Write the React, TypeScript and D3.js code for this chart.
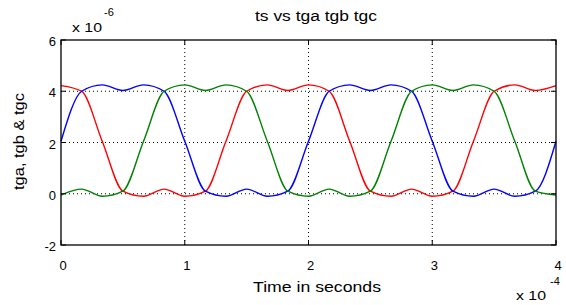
import React from "react";
import * as d3 from "d3";

// time in units of 1e-4 s, values in units of 1e-6
const tgaTime = [0, 0.167, 0.333, 0.5, 0.667, 0.833, 1.0, 1.167, 1.333, 1.5, 1.667, 1.833, 2.0, 2.167, 2.333, 2.5, 2.667, 2.833, 3.0, 3.167, 3.333, 3.5, 3.667, 3.833, 4.0];
const tgaValues = [4.22, 4.0, 2.05, 0.1, -0.1, 0.18, -0.1, 0.1, 2.05, 4.0, 4.25, 4.03, 4.25, 4.0, 2.05, 0.1, -0.1, 0.18, -0.1, 0.1, 2.05, 4.0, 4.25, 4.03, 4.22];

const tgbTime = [0, 0.167, 0.333, 0.5, 0.667, 0.833, 1.0, 1.167, 1.333, 1.5, 1.667, 1.833, 2.0, 2.167, 2.333, 2.5, 2.667, 2.833, 3.0, 3.167, 3.333, 3.5, 3.667, 3.833, 4.0];
const tgbValues = [2.05, 4.0, 4.25, 4.03, 4.25, 4.0, 2.05, 0.1, -0.1, 0.18, -0.1, 0.1, 2.05, 4.0, 4.25, 4.03, 4.25, 4.0, 2.05, 0.1, -0.1, 0.18, -0.1, 0.1, 2.05];

const tgcTime = [0, 0.167, 0.333, 0.5, 0.667, 0.833, 1.0, 1.167, 1.333, 1.5, 1.667, 1.833, 2.0, 2.167, 2.333, 2.5, 2.667, 2.833, 3.0, 3.167, 3.333, 3.5, 3.667, 3.833, 4.0];
const tgcValues = [-0.05, 0.18, -0.1, 0.1, 2.05, 4.0, 4.25, 4.03, 4.25, 4.0, 2.05, 0.1, -0.1, 0.18, -0.1, 0.1, 2.05, 4.0, 4.25, 4.03, 4.25, 4.0, 2.05, 0.1, -0.05];

const xTicks = [0, 1, 2, 3, 4];
const yTicks = [-2, 0, 2, 4, 6];

const series = [
  { name: "tga", time: tgaTime, values: tgaValues, color: "#ff0000" },
  { name: "tgb", time: tgbTime, values: tgbValues, color: "#0000ff" },
  { name: "tgc", time: tgcTime, values: tgcValues, color: "#008000" },
];

export default function App() {
  const width = 566;
  const height = 305;
  const left = 61;
  const right = 556;
  const top = 40;
  const bottom = 245;
  const font = "'Liberation Sans', Arial, sans-serif";

  const x = d3.scaleLinear().domain([0, 4]).range([left, right]);
  const y = d3.scaleLinear().domain([-2, 6]).range([bottom, top]);

  const line = d3
    .line<[number, number]>()
    .x((d) => x(d[0]))
    .y((d) => y(d[1]))
    .curve(d3.curveMonotoneX);

  const tick = 5;

  return (
    <svg
      width={width}
      height={height}
      style={{ position: "absolute", left: 0, top: 0, background: "#fff" }}
      fontFamily={font}
    >
      <rect x={0} y={0} width={width} height={height} fill="#fff" />

      {/* grid */}
      {xTicks.slice(1, -1).map((t) => (
        <line key={"gx" + t} x1={x(t)} x2={x(t)} y1={top} y2={bottom} stroke="#000" strokeDasharray="1,3" strokeWidth={1} />
      ))}
      {yTicks.slice(1, -1).map((t) => (
        <line key={"gy" + t} x1={left} x2={right} y1={y(t)} y2={y(t)} stroke="#000" strokeDasharray="1,3" strokeWidth={1} />
      ))}

      {/* series */}
      {series.map((s) => (
        <path
          key={s.name}
          d={line(s.time.map((t, i) => [t, s.values[i]] as [number, number])) || ""}
          fill="none"
          stroke={s.color}
          strokeWidth={1.4}
        />
      ))}

      {/* box */}
      <rect x={left} y={top} width={right - left} height={bottom - top} fill="none" stroke="#000" strokeWidth={1.3} />

      {/* ticks */}
      {xTicks.map((t) => (
        <g key={"xt" + t}>
          <line x1={x(t)} x2={x(t)} y1={bottom} y2={bottom - tick} stroke="#000" />
          <line x1={x(t)} x2={x(t)} y1={top} y2={top + tick} stroke="#000" />
          <text x={x(t) + 2} y={270} fontSize={13} textAnchor="middle" fill="#000">
            {t}
          </text>
        </g>
      ))}
      {yTicks.map((t) => (
        <g key={"yt" + t}>
          <line x1={left} x2={left + tick} y1={y(t)} y2={y(t)} stroke="#000" />
          <line x1={right} x2={right - tick} y1={y(t)} y2={y(t)} stroke="#000" />
          <text x={left - 5} y={y(t) + 6} fontSize={13} textAnchor="end" fill="#000">
            {t}
          </text>
        </g>
      ))}

      {/* exponent labels */}
      <text x={72} y={32} fontSize={13} fill="#000" textLength={30} lengthAdjust="spacingAndGlyphs">x 10</text>
      <text x={104} y={16} fontSize={11} fill="#000">-6</text>
      <text x={516} y={300} fontSize={13} fill="#000" textLength={30} lengthAdjust="spacingAndGlyphs">x 10</text>
      <text x={550} y={285} fontSize={11} fill="#000">-4</text>

      {/* titles */}
      <text x={255} y={21} fontSize={14} fill="#000" textLength={122} lengthAdjust="spacingAndGlyphs">
        ts vs tga tgb tgc
      </text>
      <text x={253} y={292} fontSize={14} fill="#000" textLength={128} lengthAdjust="spacingAndGlyphs">
        Time in seconds
      </text>
      <text
        transform={`translate(24, 190) rotate(-90)`}
        fontSize={14}
        fill="#000"
        textLength={97}
        lengthAdjust="spacingAndGlyphs"
      >
        tga, tgb &amp; tgc
      </text>
    </svg>
  );
}
